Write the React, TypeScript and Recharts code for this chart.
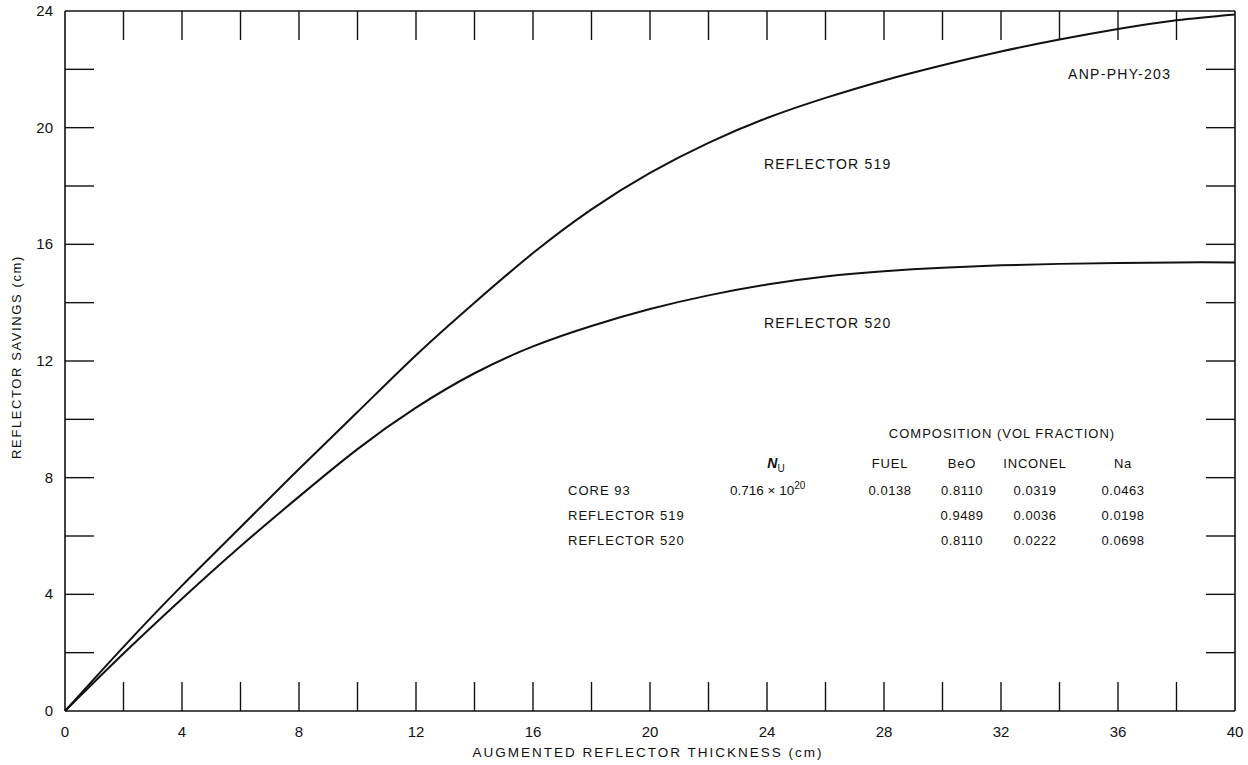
import { LineChart, Line, XAxis, YAxis } from 'recharts'

// augmented reflector thickness (cm)
const thickness = [0, 2, 4, 6, 8, 10, 12, 14, 16, 18, 20, 22, 24, 26, 28, 30, 32, 34, 36, 38, 40]
// reflector savings (cm)
const reflector519 = [0, 2.2, 4.3, 6.3, 8.3, 10.25, 12.2, 14.0, 15.7, 17.2, 18.45, 19.48, 20.33, 21.02, 21.62, 22.14, 22.61, 23.02, 23.38, 23.68, 23.88]
const reflector520 = [0, 1.97, 3.85, 5.65, 7.35, 8.98, 10.4, 11.58, 12.5, 13.2, 13.78, 14.25, 14.62, 14.9, 15.08, 15.2, 15.28, 15.33, 15.36, 15.38, 15.38]

const xTicks = [0, 2, 4, 6, 8, 10, 12, 14, 16, 18, 20, 22, 24, 26, 28, 30, 32, 34, 36, 38, 40]
const yTicks = [0, 2, 4, 6, 8, 10, 12, 14, 16, 18, 20, 22, 24]

const tableHeader = ['FUEL', 'BeO', 'INCONEL', 'Na']
const tableRows = ['CORE 93', 'REFLECTOR 519', 'REFLECTOR 520']
const core93 = ['0.0138', '0.8110', '0.0319', '0.0463']
const refl519 = ['', '0.9489', '0.0036', '0.0198']
const refl520 = ['', '0.8110', '0.0222', '0.0698']

const data = thickness.map((t, i) => ({ t, r519: reflector519[i], r520: reflector520[i] }))

const FONT = '"Liberation Sans", Arial, sans-serif'
const INK = '#111'
const W = 1248
const H = 765
const M = { top: 11, right: 13, bottom: 0, left: 0 }
const X_AXIS_H = 54
const Y_AXIS_W = 65
const PLOT_TOP = M.top
const PLOT_RIGHT = W - M.right
const TICK_LEN = 29
const GAP = 6

// bottom axis tick: inward tick at bottom and matching one hanging from the top frame
function XTick(props: any) {
  const { x, y, payload } = props
  const base = y - GAP
  const v = payload.value
  const inner = v > 0 && v < 40
  return (
    <g>
      {inner && <line x1={x} x2={x} y1={base} y2={base - TICK_LEN} stroke={INK} strokeWidth={1.4} />}
      {inner && <line x1={x} x2={x} y1={PLOT_TOP} y2={PLOT_TOP + TICK_LEN} stroke={INK} strokeWidth={1.4} />}
      {v % 4 === 0 && (
        <text x={x} y={base + 26} textAnchor="middle" fontSize={15} fontFamily={FONT} fill={INK}>{v}</text>
      )}
    </g>
  )
}

// left axis tick: inward tick at left and matching one from the right frame
function YTick(props: any) {
  const { x, y, payload } = props
  const base = x + GAP
  const v = payload.value
  const inner = v > 0 && v < 24
  return (
    <g>
      {inner && <line x1={base} x2={base + TICK_LEN} y1={y} y2={y} stroke={INK} strokeWidth={1.4} />}
      {inner && <line x1={PLOT_RIGHT} x2={PLOT_RIGHT - TICK_LEN} y1={y} y2={y} stroke={INK} strokeWidth={1.4} />}
      {v % 4 === 0 && (
        <text x={base - 12} y={y + 5} textAnchor="end" fontSize={15} fontFamily={FONT} fill={INK}>{v}</text>
      )}
    </g>
  )
}

const colX = [890, 962, 1035, 1123]

export default function App() {
  const txt = { fontFamily: FONT, fill: INK } as const
  return (
    <div style={{ position: 'absolute', left: 0, top: 0, width: W, height: H, background: '#fff' }}>
      <LineChart width={W} height={H} data={data} margin={M}>
        <XAxis dataKey="t" type="number" domain={[0, 40]} ticks={xTicks} interval={0} height={X_AXIS_H}
          tickSize={0} tickMargin={GAP} tick={<XTick />} axisLine={{ stroke: INK, strokeWidth: 1.3 }} />
        <YAxis type="number" domain={[0, 24]} ticks={yTicks} interval={0} width={Y_AXIS_W}
          tickSize={0} tickMargin={GAP} tick={<YTick />} axisLine={{ stroke: INK, strokeWidth: 1.6 }} />
        <Line type="natural" dataKey="r519" stroke={INK} strokeWidth={2} dot={false} isAnimationActive={false} />
        <Line type="natural" dataKey="r520" stroke={INK} strokeWidth={2} dot={false} isAnimationActive={false} />
      </LineChart>
      <svg width={W} height={H} style={{ position: 'absolute', left: 0, top: 0, pointerEvents: 'none' }}>
        {/* top and right frame */}
        <line x1={Y_AXIS_W} x2={PLOT_RIGHT} y1={PLOT_TOP} y2={PLOT_TOP} stroke={INK} strokeWidth={1.3} />
        <line x1={PLOT_RIGHT} x2={PLOT_RIGHT} y1={PLOT_TOP} y2={H - X_AXIS_H} stroke={INK} strokeWidth={1.6} />
        <text x={648} y={757} textAnchor="middle" fontSize={13.5} letterSpacing={2} {...txt}>AUGMENTED REFLECTOR THICKNESS (cm)</text>
        <text transform="translate(21,357) rotate(-90)" textAnchor="middle" fontSize={13} letterSpacing={1.6} {...txt}>REFLECTOR SAVINGS (cm)</text>
        <text x={1068} y={79} fontSize={14} letterSpacing={1.3} {...txt}>ANP-PHY-203</text>
        <text x={764} y={169} fontSize={14} letterSpacing={1.2} {...txt}>REFLECTOR 519</text>
        <text x={764} y={328} fontSize={14} letterSpacing={1.2} {...txt}>REFLECTOR 520</text>
        <text x={1002} y={438} textAnchor="middle" fontSize={13} letterSpacing={1} {...txt}>COMPOSITION (VOL FRACTION)</text>
        <text x={776} y={468} textAnchor="middle" fontSize={14} {...txt}>
          <tspan fontStyle="italic" fontWeight="bold">N</tspan>
          <tspan fontSize={10} dy={4}>U</tspan>
        </text>
        {tableHeader.map((h, i) => (
          <text key={h} x={colX[i]} y={468} textAnchor="middle" fontSize={13} letterSpacing={0.8} {...txt}>{h}</text>
        ))}
        {tableRows.map((r, i) => (
          <text key={r} x={568} y={495 + i * 25} fontSize={13} letterSpacing={1} {...txt}>{r}</text>
        ))}
        <text x={730} y={495} fontSize={13.5} {...txt}>
          0.716 × 10<tspan fontSize={10} dy={-6}>20</tspan>
        </text>
        {[core93, refl519, refl520].map((row, ri) =>
          row.map((v, ci) =>
            v ? (
              <text key={`${ri}-${ci}`} x={colX[ci]} y={495 + ri * 25} textAnchor="middle" fontSize={13} letterSpacing={0.5} {...txt}>{v}</text>
            ) : null
          )
        )}
      </svg>
    </div>
  )
}
